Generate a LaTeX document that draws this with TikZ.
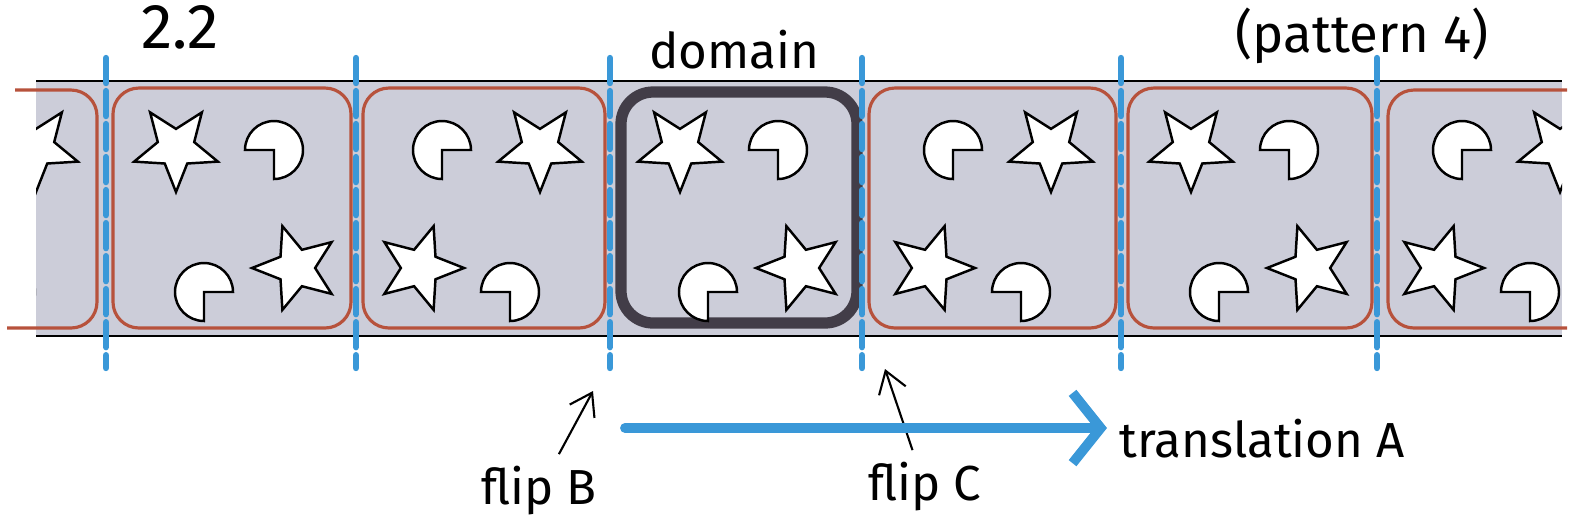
\documentclass[tikz,border=0pt]{standalone}
\usepackage{fontspec}
\setmainfont{Fira Sans}
\usetikzlibrary{shapes.geometric,arrows.meta}
\definecolor{bandgray}{RGB}{204,205,217}
\definecolor{cellred}{RGB}{183,82,60}
\definecolor{flipblue}{RGB}{58,152,216}
\definecolor{domdark}{RGB}{66,61,72}
\tikzset{
  pics/pac/.style={code={
    \filldraw[motif] (0,0) -- (90:29) arc[start angle=90,end angle=-180,radius=29] -- cycle;}}
}

\begin{document}
\begin{tikzpicture}
    [x=0.01cm,y=-0.01cm,
     motif/.style={draw=black,fill=white,line width=0.7pt},
     starm/.style={motif,star,star points=5,star point ratio=2.3,minimum size=0.88cm,inner sep=0pt},
     cellframe/.style={draw=cellred,line width=0.9pt,rounded corners=0.26cm},
     flipline/.style={draw=flipblue,line width=1.8pt,dash pattern=on 0.25cm off 0.08cm,line cap=round},
     pointer/.style={->,>={Straight Barb[length=6pt,width=8pt]},line width=0.6pt},
     handtext/.style={font=\fontsize{14}{16}\selectfont}]
    \useasboundingbox (0,0) rectangle (1581,529);
    \fill[bandgray] (36,81) rectangle (1562,336);
    \draw[line width=0.6pt] (36,81) -- (1562,81) (36,336) -- (1562,336);
    \foreach \xa/\xb in {106/356,356/610,862/1121,1121/1377}
      \draw[cellframe] (\xa+7,88) rectangle (\xb-5,328);
    \draw[cellframe] (15,90) -- (97,90) -- (97,328) -- (7,328);
    \draw[cellframe] (1567,90) -- (1388,90) -- (1388,328) -- (1567,328);
    \draw[domdark,line width=3.2pt,rounded corners=0.32cm] (621,92) rectangle (857,323);
    \foreach \x in {106,356,610,862,1121,1377}
      \draw[flipline] (\x,58) -- (\x,368);
    \begin{scope}
      \clip (36,81) rectangle (1562,336);
      \foreach \x in {106,610,1121} {
        \node[starm,shape border rotate=180] (sa\x) at (\x+70,148) {};
        \pic at (\x+168,150) {pac};
        \pic[xscale=-1] at (\x+98,292) {pac};
        \node[starm,shape border rotate=90] (sb\x) at (\x+190,268) {};
      }
      \foreach \x in {106,610,1121,1630} {
        \node[starm,shape border rotate=180] (sc\x) at (\x-70,148) {};
        \pic[xscale=-1] at (\x-168,150) {pac};
        \pic at (\x-100,292) {pac};
        \node[starm,shape border rotate=-90] (sd\x) at (\x-190,268) {};
      }
    \end{scope}
    \node[handtext,font=\fontsize{18}{20}\selectfont] (sec) at (180,27) {2.2};
    \node[handtext] (dom) at (734,50) {domain};
    \node[handtext,font=\fontsize{15}{17}\selectfont] (patt) at (1362,36) {(pattern 4)};
    \node[handtext] (flipB) at (539,491) {flip B};
    \node[handtext] (flipC) at (925,487) {flip C};
    \node[handtext] (transA) at (1262,439) {translation A};
    \coordinate (tipB) at (593,391);
    \coordinate (tipC) at (885,369);
    \coordinate (trS) at (625,428);
    \draw[pointer] (flipB) -- (tipB);
    \draw[pointer] (flipC) -- (tipC);
    \draw[flipblue,line width=2.8pt,line cap=round,
      -{Straight Barb[length=8pt,width=20pt,line width=2.8pt]}] (trS) -- (trS -| transA.west);
\end{tikzpicture}
\end{document}
